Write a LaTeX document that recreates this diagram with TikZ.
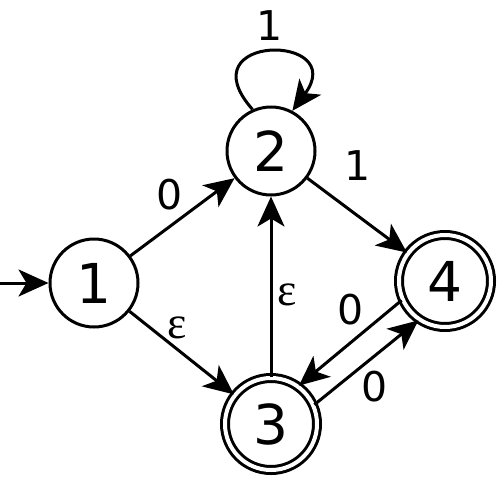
\documentclass[tikz,border=0pt]{standalone}
\usepackage{fontspec}
\setmainfont{DejaVu Sans}
\newfontfamily\epsfont{Liberation Serif}
\usetikzlibrary{arrows.meta}
\begin{document}
\begin{tikzpicture}[x=1pt,y=-1pt,
  state/.style={circle,draw,line width=3pt,minimum size=88pt,inner sep=0pt,font=\fontsize{55}{60}\selectfont},
  accepting/.style={state,double,double distance=4pt,minimum size=92pt},
  arr/.style={line width=3pt,-{Stealth[length=30pt,width=27pt,inset=8pt]}},
  lbl/.style={font=\fontsize{41}{44}\selectfont,inner sep=0pt},
  elbl/.style={font=\epsfont\fontsize{46}{48}\selectfont,inner sep=0pt}]
\useasboundingbox (0,0) rectangle (500,479);
\node[state] (1) at (94,283) {1};
\node[state] (2) at (271,151) {2};
\node[accepting] (3) at (271,424) {3};
\node[accepting] (4) at (445,281) {4};
\coordinate (start) at (0,283);
\draw[arr] (start) -- (1);
\draw[arr] (2.114) .. controls (185,33) and (350,33) .. (2.62) node[lbl] at (270,26) {1};
\draw[arr] (1) -- (2) node[lbl] at (170,195) {0};
\draw[arr] (1) -- (3) node[elbl] at (177,328) {ε};
\draw[arr] (3) -- (2) node[elbl] at (287,295) {ε};
\draw[arr] (2) -- (4) node[lbl] at (358,166) {1};
\draw[arr] (4.204) -- (3.54) node[lbl] at (351,310) {0};
\draw[arr] (3.24) -- (4.236) node[lbl] at (375,387) {0};
\end{tikzpicture}
\end{document}
